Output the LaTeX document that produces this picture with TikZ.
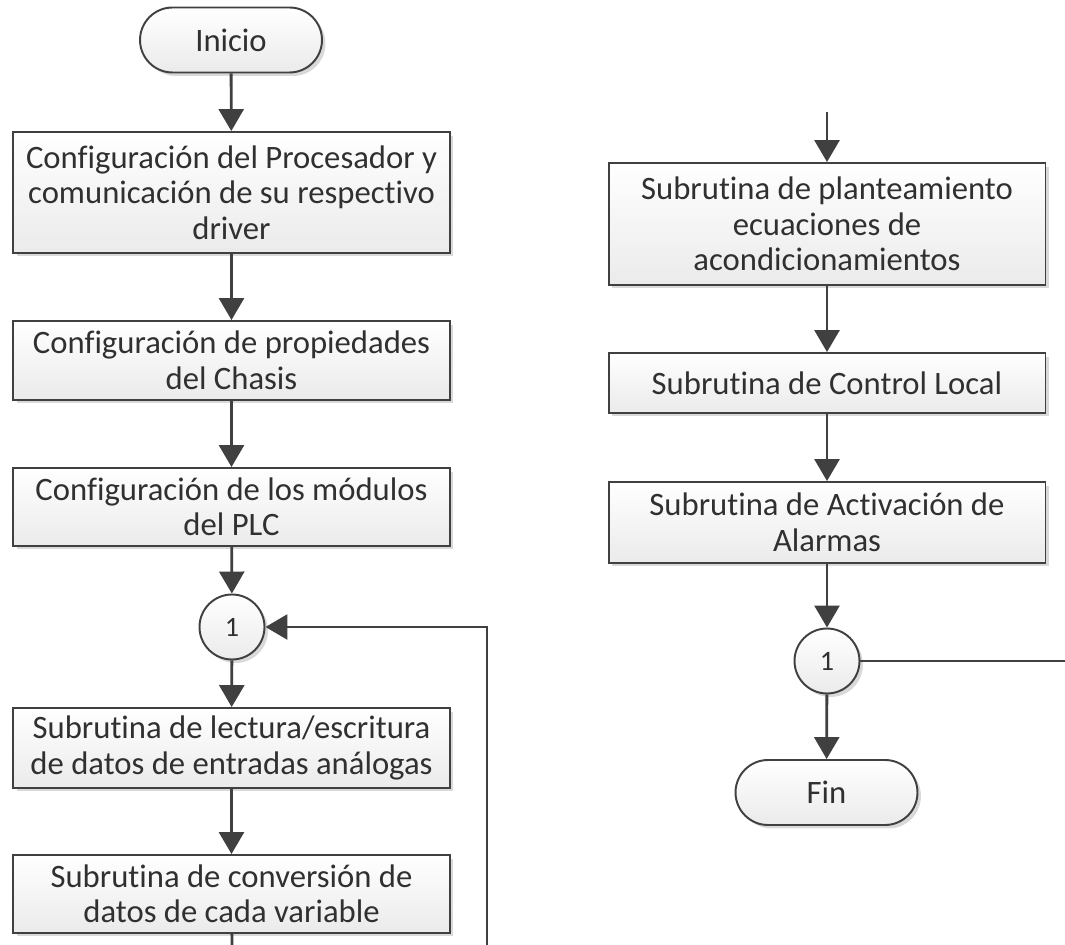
\documentclass[tikz,border=0pt]{standalone}
\usepackage{fontspec}
\setmainfont{Carlito}[Ligatures={NoCommon}]
\usetikzlibrary{arrows.meta,shadows,positioning}
\definecolor{linegray}{HTML}{404040}
\definecolor{textgray}{HTML}{303030}
\tikzset{
  boxbase/.style={draw=linegray, line width=1.1pt, top color=white, bottom color=gray!16,
    text=textgray, font=\fontsize{18.6}{20.2}\selectfont, align=center,
    drop shadow={shadow xshift=0.07cm, shadow yshift=-0.07cm, opacity=0.3}},
  proc/.style={boxbase, rectangle, minimum width=8.74cm, inner sep=2pt},
  term/.style={boxbase, rectangle, rounded corners=0.65cm, minimum width=3.64cm, minimum height=1.3cm},
  conn/.style={boxbase, circle, minimum size=1.3cm, inner sep=0pt, font=\fontsize{16}{18}\selectfont},
  flow/.style={draw=linegray, line width=1.6pt, -{Triangle[width=0.5cm,length=0.44cm]}},
  plain/.style={draw=linegray, line width=1.6pt}
}
\begin{document}
\begin{tikzpicture}[x=0.02cm, y=-0.02cm]
\useasboundingbox (0,0) rectangle (1065,945);
% left column
\node[term] (inicio) at (231,40) {Inicio};
\node[proc, minimum height=2.42cm] (proc) at (231.5,192.5)
  {Configuración del Procesador y\\comunicación de su respectivo\\driver};
\node[proc, minimum height=1.58cm] (chasis) at (231.5,360.5)
  {Configuración de propiedades\\del Chasis};
\node[proc, minimum height=1.56cm] (modulos) at (231.5,507)
  {Configuración de los módulos\\del PLC};
\node[conn] (uno) at (232,627) {1};
\node[proc, minimum height=1.6cm] (lectura) at (231.5,748)
  {Subrutina de lectura/escritura\\de datos de entradas análogas};
\node[proc, minimum height=1.56cm] (conversion) at (231.5,894)
  {Subrutina de conversión de\\datos de cada variable};
\coordinate (abajo) at (232,945);
\coordinate (retorno) at (487,945);
% right column
\coordinate (entra) at (827,112);
\node[proc, minimum height=2.44cm] (ecuaciones) at (827,224)
  {Subrutina de planteamiento\\ecuaciones de\\acondicionamientos};
\node[proc, minimum height=1.2cm] (control) at (827,383)
  {Subrutina de Control Local};
\node[proc, minimum height=1.62cm] (alarmas) at (827,522.5)
  {Subrutina de Activación de\\Alarmas};
\node[conn] (unoB) at (827,661) {1};
\node[term] (fin) at (826.5,792.5) {Fin};
\coordinate (sale) at (1065,661);

\draw[flow] (inicio) -- (proc);
\draw[flow] (proc) -- (chasis);
\draw[flow] (chasis) -- (modulos);
\draw[flow] (modulos) -- (uno);
\draw[flow] (uno) -- (lectura);
\draw[flow] (lectura) -- (conversion);
\draw[plain] (conversion) -- (abajo);
\draw[flow] (retorno) |- (uno);

\draw[flow] (entra) -- (ecuaciones);
\draw[flow] (ecuaciones) -- (control);
\draw[flow] (control) -- (alarmas);
\draw[flow] (alarmas) -- (unoB);
\draw[flow] (unoB) -- (fin);
\draw[plain] (unoB) -- (sale);
\end{tikzpicture}
\end{document}
